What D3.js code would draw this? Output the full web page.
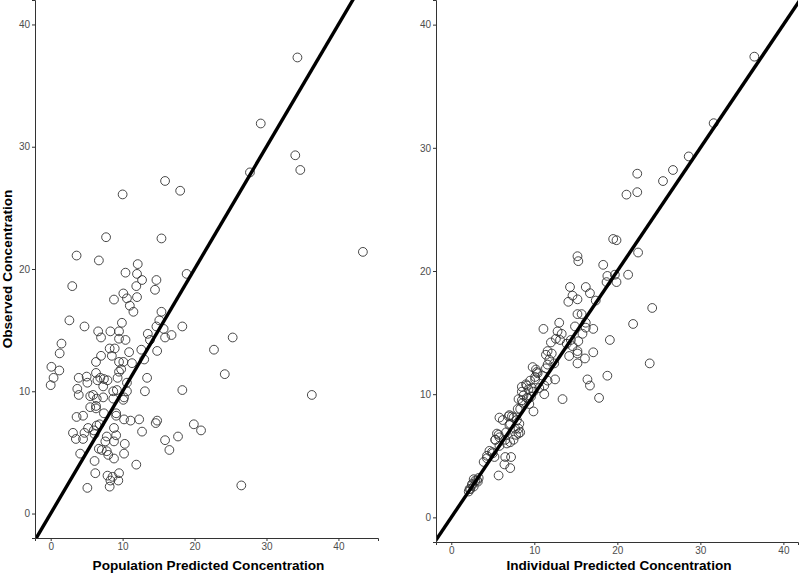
<!DOCTYPE html>
<html>
<head>
<meta charset="utf-8">
<script src="https://cdn.jsdelivr.net/npm/d3@7"></script>
<style>
	body { margin: 0; background: #fff; }
	svg text { font-family: "Liberation Sans", Arial, sans-serif; }
	.tick text { fill: #4d4d4d; font-size: 10px; }
	.axis-title { font-weight: bold; font-size: 13.6px; fill: #000; }
</style>
</head>
<body>
<div id="chart"></div>
<script>
// population predicted (x) vs observed (y)
var popPred = [34.3, 29.2, 34.0, 34.7, 27.7, 15.9, 18.0, 10.0, 7.7, 15.4, 43.4, 3.6, 6.7, 12.1, 10.4, 12.0, 18.9, 12.7, 14.7, 3.0,
	11.9, 14.5, 10.1, 8.8, 12.0, 10.6, 11.0, 11.5, 2.6, 4.7, 9.9, 6.6, 8.3, 9.5, 7.0, 9.5, 10.4, 1.5, 1.25, 15.4,
	15.1, 14.7, 15.7, 18.3, 16.8, 15.9, 13.5, 13.8, 25.3, 22.7, 14.8, 12.6, 10.9, 8.2, 8.9, 8.5, 7.0, 6.3, 9.5, 10.1,
	11.3, 13.0, 0.1, 1.2, 0.4, 0.0, 6.3, 9.8, 9.5, 3.9, 5.0, 6.9, 7.4, 6.5, 5.1, 9.3, 7.3, 10.6, 13.4, 3.7,
	3.9, 9.2, 8.7, 10.6, 13.1, 18.3, 36.3, 5.5, 5.9, 6.4, 7.3, 8.7, 10.1, 10.2, 5.5, 6.3, 6.3, 7.4, 4.5, 3.6,
	9.1, 9.1, 10.2, 11.1, 12.3, 14.6, 14.8, 19.9, 20.9, 3.1, 3.5, 4.5, 4.7, 5.2, 6.0, 6.1, 6.4, 6.8, 8.8, 9.1,
	7.8, 7.6, 8.8, 10.3, 12.7, 17.7, 15.9, 16.5, 6.7, 7.1, 7.8, 8.0, 4.1, 10.2, 8.8, 6.1, 11.9, 6.2, 7.9, 8.6,
	9.5, 8.3, 9.4, 8.2, 5.1, 26.5, 24.2, 7.9];
var popObs = [37.3, 31.9, 29.3, 28.1, 27.9, 27.2, 26.4, 26.1, 22.6, 22.5, 21.4, 21.1, 20.7, 20.4, 19.7, 19.6, 19.6, 19.1, 19.1, 18.6,
	18.6, 18.3, 18.0, 17.5, 17.7, 17.6, 17.0, 16.5, 15.8, 15.3, 15.6, 14.9, 14.9, 14.9, 14.4, 14.3, 14.2, 13.9, 13.1, 16.5,
	15.8, 15.3, 15.1, 15.3, 14.6, 14.4, 14.7, 14.2, 14.4, 13.4, 13.3, 13.4, 13.2, 13.5, 13.5, 12.9, 12.9, 12.4, 12.4, 12.4,
	12.3, 12.6, 12.0, 11.7, 11.1, 10.5, 11.5, 11.8, 11.6, 11.1, 11.2, 11.1, 11.0, 10.9, 10.7, 11.1, 10.4, 10.7, 11.1, 10.2,
	9.7, 10.1, 10.0, 10.0, 10.0, 10.1, 9.7, 9.6, 9.7, 9.4, 9.5, 9.4, 9.3, 9.5, 8.7, 8.8, 8.6, 8.2, 8.0, 7.9,
	8.2, 8.0, 7.7, 7.6, 7.7, 7.4, 7.6, 7.3, 6.8, 6.6, 6.1, 6.1, 6.6, 7.0, 6.8, 6.5, 7.2, 7.3, 7.0, 6.4,
	6.3, 5.9, 5.9, 5.7, 6.7, 6.3, 6.0, 5.2, 5.3, 5.2, 5.1, 4.8, 4.9, 4.9, 4.5, 4.3, 4.0, 3.3, 3.1, 3.0,
	3.3, 2.7, 2.7, 2.2, 2.1, 2.3, 11.4, 10.9];

// individual predicted (x) vs observed (y)
var indPred = [36.5, 31.6, 28.6, 26.7, 25.5, 22.4, 22.4, 21.1, 19.5, 19.9, 22.5, 15.2, 15.3, 18.3, 18.8, 19.7, 21.3, 18.7, 19.9, 14.3,
	16.2, 16.7, 14.6, 15.2, 14.1, 17.4, 24.2, 15.2, 15.7, 13.0, 16.2, 21.9, 11.1, 14.9, 16.2, 17.1, 12.8, 13.3, 15.8, 12.6,
	13.1, 14.4, 15.3, 19.1, 13.9, 14.6, 11.6, 15.2, 17.1, 11.4, 12.1, 14.2, 15.2, 16.1, 11.8, 12.4, 11.6, 15.2, 23.9, 11.4,
	10.2, 10.4, 11.0, 10.1, 12.5, 16.4, 18.8, 11.6, 16.7, 11.2, 8.5, 9.0, 9.3, 8.5, 9.9, 11.2, 9.6, 8.1, 9.1, 13.4,
	17.8, 8.6, 9.4, 8.0, 9.9, 7.0, 5.8, 6.2, 7.5, 8.2, 7.0, 7.7, 6.6, 5.7, 8.1, 5.8, 5.3, 6.5, 7.5, 6.7,
	5.8, 4.6, 5.0, 4.3, 3.9, 5.2, 6.5, 7.2, 6.4, 7.1, 5.7, 3.3, 2.9, 3.2, 2.5, 2.3, 2.1, 2.7, 6.9, 7.3,
	7.1, 7.9, 8.1, 8.3, 7.8, 5.5, 5.3, 7.1, 4.9, 4.3, 2.7, 3.1, 2.5, 2.2, 9.1, 9.7, 9.5, 10.1, 10.3, 8.7,
	8.5, 9.3, 8.3, 10.6, 9.8, 12.0];
var indObs = [37.4, 32.0, 29.3, 28.2, 27.3, 27.9, 26.4, 26.2, 22.6, 22.5, 21.5, 21.2, 20.8, 20.5, 19.6, 19.7, 19.7, 19.1, 19.1, 18.7,
	18.7, 18.2, 18.0, 17.7, 17.5, 17.6, 17.0, 16.5, 16.5, 15.8, 15.8, 15.7, 15.3, 15.5, 15.4, 15.3, 15.1, 14.9, 14.9, 14.5,
	14.4, 14.4, 14.3, 14.4, 14.1, 13.9, 13.5, 13.5, 13.4, 13.2, 13.3, 13.1, 13.3, 12.9, 12.8, 12.5, 12.4, 12.5, 12.5, 12.1,
	12.0, 11.7, 11.5, 11.2, 11.2, 11.2, 11.5, 11.1, 10.7, 10.7, 10.6, 10.8, 10.4, 10.2, 10.2, 10.0, 9.8, 9.6, 9.7, 9.6,
	9.7, 9.3, 9.2, 8.8, 8.6, 8.3, 8.1, 7.9, 8.1, 7.6, 7.5, 7.2, 6.9, 6.7, 6.8, 6.5, 6.3, 6.3, 6.3, 6.0,
	5.8, 5.4, 5.2, 5.0, 4.5, 4.9, 4.9, 4.9, 4.3, 4.0, 3.4, 3.2, 3.0, 2.9, 2.7, 2.3, 2.1, 2.5, 8.2, 8.2,
	7.6, 7.9, 7.2, 6.9, 6.7, 6.8, 6.3, 6.1, 5.3, 4.8, 3.1, 3.0, 2.6, 2.3, 10.7, 10.5, 11.1, 11.4, 11.8, 9.9,
	9.5, 9.65, 8.8, 10.5, 12.2, 14.2];

var yTicks = [0, 10, 20, 30, 40];
var xTicks = [0, 10, 20, 30, 40];

var svg = d3.select("#chart").append("svg")
	.attr("width", 800)
	.attr("height", 573);

// one panel per predicted type
var panels = [
	{ xs: popPred, ys: popObs, left: 35, right: 378, bottom: 538, xDom: [-2.18, 45.5],
		title: "Population Predicted Concentration", titleY: 570, yTitle: true },
	{ xs: indPred, ys: indObs, left: 436, right: 798, bottom: 542, xDom: [-1.84, 41.76],
		title: "Individual Predicted Concentration", titleY: 569.5, yTitle: false }
];

panels.forEach(function(p){
	var x = d3.scaleLinear().domain(p.xDom).range([p.left, p.right]);
	var y = d3.scaleLinear().domain([-2, 42]).range([p.bottom, 0]);

	var g = svg.append("g");

	// clip for the identity line
	var clipId = "clip" + p.left;
	g.append("clipPath").attr("id", clipId)
		.append("rect")
		.attr("x", p.left).attr("y", 0)
		.attr("width", p.right - p.left).attr("height", p.bottom);

	g.append("g").attr("class", "points")
		.selectAll("circle")
		.data(d3.range(p.xs.length))
		.enter().append("circle")
		.attr("cx", function(i){ return x(p.xs[i]); })
		.attr("cy", function(i){ return y(p.ys[i]); })
		.attr("r", 4.4)
		.style("fill", "none")
		.style("stroke", "#333")
		.style("stroke-width", 0.9);

	g.append("line")
		.attr("clip-path", "url(#" + clipId + ")")
		.attr("x1", x(-5)).attr("y1", y(-5))
		.attr("x2", x(50)).attr("y2", y(50))
		.style("stroke", "#000")
		.style("stroke-width", 3.4);

	var yAxis = g.append("g")
		.attr("transform", "translate(" + p.left + ",0)")
		.call(d3.axisLeft(y).tickValues(yTicks).tickSize(3).tickPadding(2));
	var xAxis = g.append("g")
		.attr("transform", "translate(0," + p.bottom + ")")
		.call(d3.axisBottom(x).tickValues(xTicks).tickSize(3).tickPadding(2));

	[yAxis, xAxis].forEach(function(a){
		a.select(".domain").style("stroke", "#333").style("stroke-width", 1);
		a.selectAll(".tick line").style("stroke", "#333");
		a.selectAll(".tick text").style("font-family", "Liberation Sans, Arial, sans-serif");
	});

	g.append("text")
		.attr("class", "axis-title")
		.attr("x", (p.left + p.right) / 2 + 2)
		.attr("y", p.titleY)
		.attr("text-anchor", "middle")
		.text(p.title);

	if (p.yTitle) {
		g.append("text")
			.attr("class", "axis-title")
			.attr("transform", "translate(12," + (p.bottom / 2) + ") rotate(-90)")
			.attr("text-anchor", "middle")
			.text("Observed Concentration");
	}
});
</script>
</body>
</html>
